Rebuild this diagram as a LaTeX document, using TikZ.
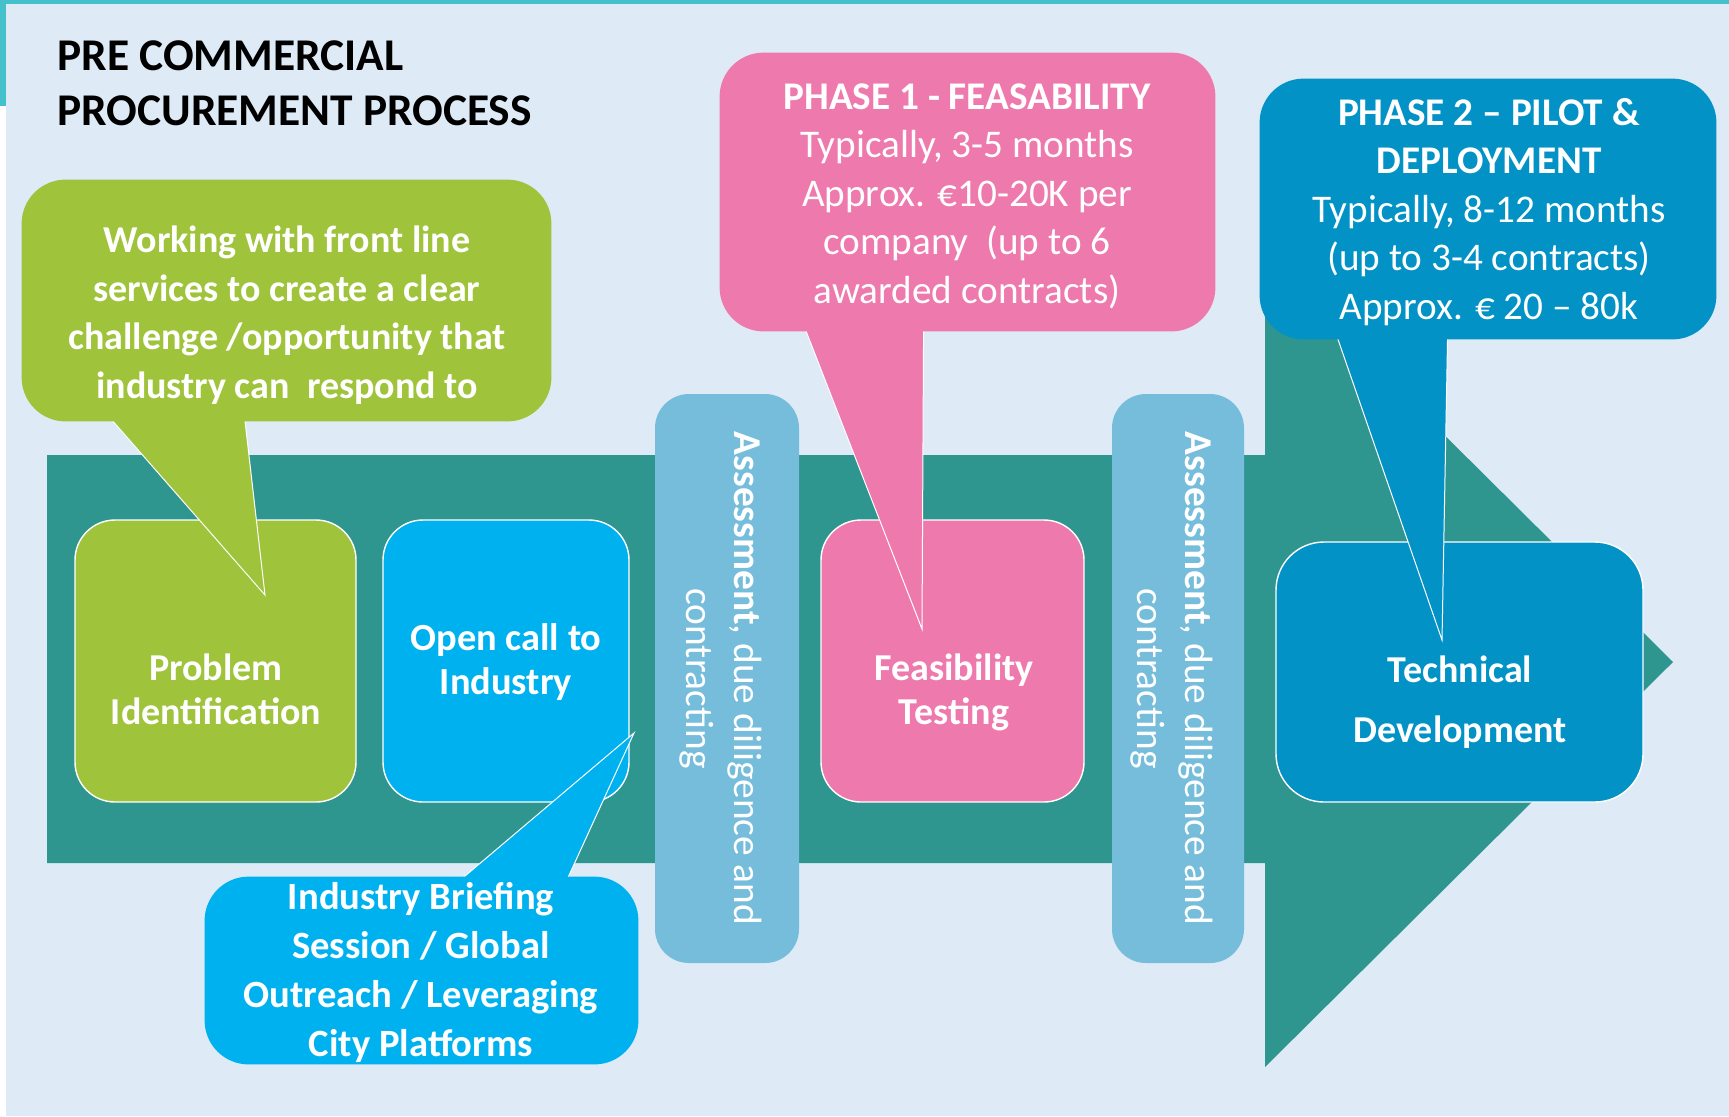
\documentclass[tikz,border=0pt]{standalone}
\usepackage{fontspec}
\setmainfont{Carlito}
\usepackage{xcolor}
\usetikzlibrary{calc,positioning}

\definecolor{pagebg}{HTML}{DEEAF6}
\definecolor{frameteal}{HTML}{45C1CC}
\definecolor{arrowteal}{HTML}{2E958F}
\definecolor{leafgreen}{HTML}{9FC43C}
\definecolor{callcyan}{HTML}{00B1EF}
\definecolor{phasepink}{HTML}{EE7AAD}
\definecolor{assessblue}{HTML}{76BDDB}
\definecolor{deepblue}{HTML}{0292C6}

\tikzset{
  stagebox/.style={draw=white, line width=0.7pt, rounded corners=20pt, inner sep=0pt},
  callbox/.style={rounded corners=22pt, inner sep=0pt},
  assessbox/.style={fill=assessblue, rounded corners=17pt, inner sep=0pt, minimum height=284.5pt},
  whitetext/.style={text=white, align=center, inner sep=0pt},
  pointer/.style={draw=white, line width=0.5pt},
}

\begin{document}
\begin{tikzpicture}[x=0.5pt,y=-0.5pt]
  \useasboundingbox (0,0) rectangle (1729,1116);
  % Page
  \fill[white] (0,0) rectangle (1729,1116);
  \fill[pagebg] (6,4) rectangle (1729,1116);
  \fill[frameteal] (0,0) rectangle (1729,4);
  \fill[frameteal] (0,0) rectangle (6,106);

  % Title
  \node[anchor=west, inner sep=0pt, align=left, font=\bfseries\fontsize{22.7}{27.5}\selectfont] (title) at (57,83)
    {PRE COMMERCIAL\\PROCUREMENT PROCESS};

  % Big arrow
  \fill[arrowteal] (47,455) -- (1265,455) -- (1265,257) -- (1673,662)
    -- (1265,1067) -- (1265,863) -- (47,863) -- cycle;

  % Assessment bars
  \foreach \cx/\w/\nm in {727/72/assessA, 1178/66/assessB} {
    \node[assessbox, minimum width=\w pt] (\nm) at (\cx,678.5) {};
    \node[whitetext, rotate=-90, font=\fontsize{19.7}{24.25}\selectfont] (\nm txt) at ([xshift=-3pt]\nm.center)
      {\textbf{Assessment}, due diligence and\\contracting};
  }

  % Stages
  \node[stagebox, fill=leafgreen, minimum width=140.5pt, minimum height=141pt] (prob) at (215.5,661) {};
  \node[stagebox, fill=callcyan, minimum width=123pt, minimum height=141pt] (open) at (506,661) {};
  \node[stagebox, fill=phasepink, minimum width=131.5pt, minimum height=141pt] (feas) at (952.5,661) {};
  \node[stagebox, fill=deepblue, rounded corners=24pt, minimum width=183.5pt, minimum height=130pt] (tech) at (1459.5,672) {};

  \node[whitetext, font=\bfseries\fontsize{19}{22}\selectfont] (probtxt) at (216,689) {Problem\\Identification};
  \node[whitetext, font=\bfseries\fontsize{19.2}{22}\selectfont] (opentxt) at (506,662) {Open call to\\Industry};
  \node[whitetext, font=\bfseries\fontsize{19}{22}\selectfont] (feastxt) at (954,692) {Feasibility\\Testing};
  \node[whitetext, font=\bfseries\fontsize{19}{30}\selectfont] (techtxt) at (1460,702) {Technical\\Development};

  % Callouts
  \coordinate (greentip) at (265,595);
  \coordinate (pinktip) at (922,629);
  \coordinate (bluetip) at (1442,640);
  \coordinate (cyantip) at (634,733);

  \node[callbox, minimum width=264.5pt, minimum height=120.5pt] (green) at (286.5,300.5) {};
  \node[callbox, minimum width=247.5pt, minimum height=139pt] (phaseA) at (967.5,192) {};
  \node[callbox, minimum width=228pt, minimum height=130pt] (phaseB) at (1488,209) {};
  \node[callbox, minimum width=216.5pt, minimum height=93.5pt] (brief) at (421.5,970.5) {};

  \filldraw[pointer, fill=leafgreen] ($(green.south west)+(88,-4)$) -- (greentip) -- ($(green.south west)+(223,-4)$);
  \filldraw[pointer, fill=phasepink] ($(phaseA.south west)+(85,-4)$) -- (pinktip) -- ($(phaseA.south west)+(204,-4)$);
  \filldraw[pointer, fill=deepblue] ($(phaseB.south west)+(77,-4)$) -- (bluetip) -- ($(phaseB.south west)+(188,-4)$);
  \filldraw[pointer, fill=callcyan] ($(brief.north west)+(255,4)$) -- (cyantip) -- ($(brief.north west)+(362,4)$);

  \fill[leafgreen, rounded corners=22pt] (green.south west) rectangle (green.north east);
  \fill[phasepink, rounded corners=22pt] (phaseA.south west) rectangle (phaseA.north east);
  \fill[deepblue, rounded corners=22pt] (phaseB.south west) rectangle (phaseB.north east);
  \fill[callcyan, rounded corners=22pt] (brief.south west) rectangle (brief.north east);

  \node[whitetext, font=\bfseries\fontsize{19}{24.25}\selectfont] (greentxt) at (287,315)
    {Working with front line\\services to create a clear\\challenge /opportunity that\\industry can\ \ respond to};
  \node[whitetext, font=\fontsize{19.6}{24.25}\selectfont] (phaseAtxt) at (967,196)
    {\textbf{PHASE 1 - FEASABILITY}\\Typically, 3-5 months\\Approx. €10-20K per\\company\ \ (up to 6\\awarded contracts)};
  \node[whitetext, font=\fontsize{19.6}{24.25}\selectfont] (phaseBtxt) at (1489,212)
    {\textbf{PHASE 2 – PILOT \&}\\\textbf{DEPLOYMENT}\\Typically, 8-12 months\\(up to 3-4 contracts)\\Approx. € 20 – 80k};
  \node[whitetext, font=\bfseries\fontsize{19.3}{24.5}\selectfont] (brieftxt) at (421,972)
    {Industry Briefing\\Session / Global\\Outreach / Leveraging\\City Platforms};
\end{tikzpicture}
\end{document}
